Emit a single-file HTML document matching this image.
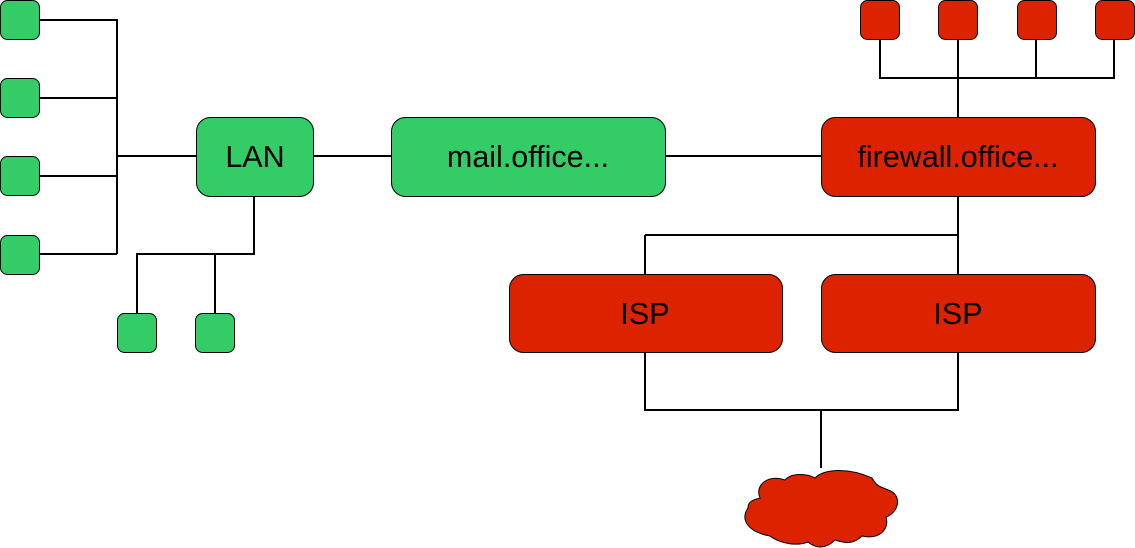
<!DOCTYPE html>
<html><head><style>body{margin:0;background:#fff}svg{display:block}</style></head><body>
<svg width="1135" height="548" xmlns="http://www.w3.org/2000/svg" font-family="Liberation Sans, sans-serif">
<g stroke="#000" stroke-width="2" fill="none">
<path d="M39 20H117V254M39 98H117M39 176H117M39 254H117M117 156H196"/>
<path d="M254 196V254H137V313M215 254V313"/>
<path d="M313 156H391M665 156H821"/>
<path d="M880 39V78H1114V39M958 39V117M1036 39V78"/>
<path d="M958 196V274M645 235H958M645 235V274"/>
<path d="M645 352V410H958V352M821 410V468"/>
</g>
<g fill="#33cc66" stroke="#000" stroke-width="1">
<rect x="0.5" y="0.5" width="39" height="39" rx="7"/>
<rect x="0.5" y="78.5" width="39" height="39" rx="7"/>
<rect x="0.5" y="156.5" width="39" height="39" rx="7"/>
<rect x="0.5" y="235.5" width="39" height="39" rx="7"/>
<rect x="117.5" y="313.5" width="39" height="39" rx="7"/>
<rect x="195.5" y="313.5" width="39" height="39" rx="7"/>
<rect x="196.5" y="117.5" width="117" height="79" rx="14"/>
<rect x="391.5" y="117.5" width="274" height="79" rx="14"/>
</g>
<g fill="#dd2200" stroke="#000" stroke-width="1">
<rect x="860.5" y="0.5" width="39" height="39" rx="7"/>
<rect x="938.5" y="0.5" width="39" height="39" rx="7"/>
<rect x="1017.5" y="0.5" width="39" height="39" rx="7"/>
<rect x="1095.5" y="0.5" width="39" height="39" rx="7"/>
<rect x="821.5" y="117.5" width="274" height="79" rx="14"/>
<rect x="509.5" y="274.5" width="273" height="78" rx="14"/>
<rect x="821.5" y="274.5" width="274" height="78" rx="14"/>
<path d="M760 498C754 484 770 474 785 480C792 472 808 474 815 478C825 468 850 468 872 478C878 488 880 486 888 490C902 494 900 512 886 517C890 530 878 540 862 536C852 546 842 542 835 540C825 550 815 548 808 542C792 548 775 540 770 536C748 532 740 520 748 508C748 502 752 500 760 498Z"/>
</g>
<g font-size="30.5" text-anchor="middle" fill="#000">
<text x="255" y="167">LAN</text>
<text x="528" y="167">mail.office...</text>
<text x="958" y="167">firewall.office...</text>
<text x="645" y="324">ISP</text>
<text x="958" y="324">ISP</text>
</g>
</svg>
</body></html>
